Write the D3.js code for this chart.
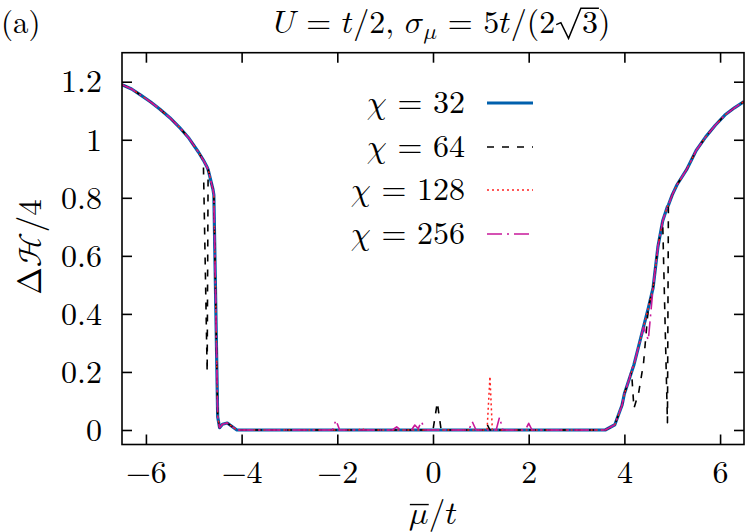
<!DOCTYPE html>
<html><head><meta charset="utf-8">
<script src="https://cdn.jsdelivr.net/npm/d3@7"></script>
<style>
body{margin:0;background:#fff;}
</style></head><body>
<svg id="chart" width="747" height="532"></svg>
<script>
// ---- data ----
const xValues = [
 -6.5,-6.3,-6.1,-5.9,-5.7,-5.5,-5.3,-5.1,-4.9,-4.8,-4.72,-4.7,-4.6,-4.58,-4.5,-4.46,-4.4,-4.3,-4.2,-4.1,-4.0,
 -3.0,-2.1,-2.03,-1.95,-1.55,-1.49,-1.43,-0.85,-0.76,-0.68,-0.45,-0.38,-0.31,-0.24,-0.17,0.0,0.09,0.17,0.3,
 0.75,0.82,0.9,1.1,1.13,1.19,1.24,1.32,1.39,1.46,1.93,2.0,2.07,3.0,3.6,
 3.8,3.95,4.0,4.1,4.15,4.2,4.3,4.4,4.5,4.6,4.7,4.8,4.9,4.92,5.0,5.1,5.3,5.5,5.7,5.9,6.1,6.3,6.5
];
const chi32 = [
 1.19,1.175,1.153,1.13,1.104,1.076,1.043,1.005,0.957,0.93,0.905,0.897,0.83,0.81,0.045,0.008,0.02,0.024,0.012,0,0,
 0,0,0,0,0,0,0,0,0,0,0,0,0,0,0,0,0,0,0,
 0,0,0,0,0,0,0,0,0,0,0,0,0,0,0,
 0.018,0.085,0.125,0.175,0.2,0.225,0.29,0.355,0.42,0.49,0.63,0.72,0.77,0.775,0.81,0.845,0.897,0.963,1.01,1.05,1.085,1.11,1.132
];
const chi64 = [
 1.19,1.175,1.153,1.13,1.104,1.076,1.043,1.005,0.957,0.93,0.2,0.897,0.83,0.81,0.045,0.008,0.02,0.024,0.012,0,0,
 0,0,0,0,0,0,0,0,0,0,0,0,0,0,0,0,0.095,0,0,
 0,0,0,0,0.02,0,0,0,0,0,0,0,0,0,0,
 0.018,0.085,0.125,0.175,0.2,0.075,0.13,0.23,0.42,0.49,0.63,0.72,0.025,0.775,0.81,0.845,0.897,0.963,1.01,1.05,1.085,1.11,1.132
];
const chi128 = [
 1.19,1.175,1.153,1.13,1.104,1.076,1.043,1.005,0.957,0.93,0.905,0.897,0.83,0.81,0.045,0.008,0.02,0.024,0.012,0,0,
 0,0,0,0,0,0.006,0,0,0,0,0,0,0,0,0,0,0,0,0,
 0,0,0,0,0,0.184,0,0,0,0,0,0,0,0,0,
 0.018,0.085,0.125,0.175,0.2,0.225,0.29,0.355,0.42,0.49,0.63,0.72,0.77,0.775,0.81,0.845,0.897,0.963,1.01,1.05,1.085,1.11,1.132
];
const chi256 = [
 1.19,1.175,1.153,1.13,1.104,1.076,1.043,1.005,0.957,0.93,0.905,0.897,0.83,0.81,0.045,0.008,0.02,0.024,0.012,0,0,
 0,0,0.034,0,0,0,0,0,0.011,0,0,0.017,0.005,0.029,0,0,0,0,0,
 0,0.029,0,0,0,0,0,0,0.044,0,0,0.023,0,0,0,
 0.018,0.085,0.125,0.175,0.21,0.225,0.29,0.355,0.31,0.49,0.63,0.72,0.77,0.775,0.81,0.845,0.897,0.963,1.01,1.05,1.085,1.11,1.132
];
const seriesLabels = ["32","64","128","256"];
const xTicks = [-6,-4,-2,0,2,4,6];
const yTicks = [0,0.2,0.4,0.6,0.8,1,1.2];

// ---- styles ----
const FONT = "'Latin Modern Roman', 'Latin Modern Math', 'FreeSerif', serif";
const MATH = "'Latin Modern Math', 'Latin Modern Roman', 'STIX Two Math', 'FreeSerif', serif";
const styles = [
  {color:"#0060ad", width:3.2, dash:null},
  {color:"#000000", width:1.6, dash:"7,8"},
  {color:"#ff2020", width:1.5, dash:"2,3"},
  {color:"#c8189a", width:1.6, dash:"15,5,2,5"}
];
const seriesData = [chi32, chi64, chi128, chi256];

const svg = d3.select("#chart");
const x = d3.scaleLinear().domain([-6.5,6.5]).range([122,744]);
const y = d3.scaleLinear().domain([-0.05,1.3]).range([444.5,52.7]);

svg.append("defs").append("clipPath").attr("id","clip")
  .append("rect").attr("x",122).attr("y",52.7).attr("width",622).attr("height",391.8);

// axes with inward ticks
const fs = 32;
const gB = svg.append("g").attr("transform",`translate(0,${y.range()[0]})`)
  .call(d3.axisBottom(x).tickValues(xTicks).tickSize(-10).tickPadding(0));
gB.selectAll("text").attr("y",27).attr("dy","0.35em").style("font-size",fs+"px");
const gT = svg.append("g").attr("transform",`translate(0,${y.range()[1]})`)
  .call(d3.axisTop(x).tickValues(xTicks).tickSize(-10).tickFormat(""));
const gL = svg.append("g").attr("transform",`translate(${x.range()[0]},0)`)
  .call(d3.axisLeft(y).tickValues(yTicks).tickSize(-10).tickPadding(20).tickFormat(d=>String(d)));
gL.selectAll("text").attr("dy","0.32em").style("font-size",fs+"px");
const gR = svg.append("g").attr("transform",`translate(${x.range()[1]},0)`)
  .call(d3.axisRight(y).tickValues(yTicks).tickSize(-10).tickFormat(""));
[gB,gT,gL,gR].forEach(g=>{
  g.attr("font-family",null);
  g.select(".domain").remove();
  g.selectAll("line").attr("stroke","#000").attr("stroke-width",1.6);
  g.selectAll("text").attr("fill","#000");
});

// lines
const line = d3.line().x((d,i)=>x(xValues[i])).y(d=>y(d));
const plot = svg.append("g").attr("clip-path","url(#clip)");
seriesData.forEach((vals,k)=>{
  const s = styles[k];
  plot.append("path").datum(vals).attr("d",line)
    .attr("fill","none").attr("stroke",s.color).attr("stroke-width",s.width)
    .attr("stroke-dasharray",s.dash).attr("stroke-linejoin","round");
});

// frame
svg.append("rect").attr("x",122).attr("y",52.7).attr("width",622).attr("height",391.8)
  .attr("fill","none").attr("stroke","#000").attr("stroke-width",1.6);

svg.selectAll("text").style("font-family",FONT);

// helpers
function mathTspan(t, s){ return t.append("tspan").style("font-family",MATH).text(s); }
function romTspan(t, s){ return t.append("tspan").style("font-family",FONT).text(s); }

// legend
const legY = [103,147,190,234];
seriesLabels.forEach((lab,k)=>{
  const t = svg.append("text").attr("x",465).attr("y",legY[k]).attr("dy","0.32em")
    .attr("text-anchor","end").style("font-size","32px");
  mathTspan(t,"𝜒");
  romTspan(t," = " + lab);
  const s = styles[k];
  svg.append("line").attr("x1",487).attr("x2",533).attr("y1",legY[k]).attr("y2",legY[k])
    .attr("stroke",s.color).attr("stroke-width",s.width).attr("stroke-dasharray",s.dash);
});

// panel label and title
svg.append("text").attr("x",1).attr("y",23).attr("dy","0.32em").style("font-size","31px")
  .style("font-family",FONT).text("(a)");
const titleSize = 32, titleY = 23;
const title = svg.append("text").attr("x",442).attr("y",titleY).attr("dy","0.32em")
  .attr("text-anchor","middle").style("font-size",titleSize+"px");
mathTspan(title,"𝑈");
romTspan(title," = ");
mathTspan(title,"𝑡");
romTspan(title,"/2, ");
mathTspan(title,"𝜎");
mathTspan(title,"𝜇").attr("dy",6).style("font-size","23px");
romTspan(title," = 5").attr("dy",-6);
mathTspan(title,"𝑡");
romTspan(title,"/(2");
romTspan(title,"\u2002 ");   // room for the radical sign
romTspan(title,"3");
romTspan(title,")");

// y label
const yl = svg.append("text").attr("transform","translate(30,247) rotate(-90)")
  .attr("text-anchor","middle").attr("dy","0.32em").style("font-size","33px");
romTspan(yl,"Δ");
mathTspan(yl,"ℋ");
romTspan(yl,"/4");

// x label
const xl = svg.append("text").attr("x",433).attr("y",513).attr("dy","0.32em")
  .attr("text-anchor","middle").style("font-size","33px");
mathTspan(xl,"𝜇");
romTspan(xl,"/");
mathTspan(xl,"𝑡");

// radical sign + overline (measured after fonts applied)
{
  const node = title.node();
  const txt = node.textContent;
  const iS = txt.indexOf("\u2002");
  const i3 = txt.lastIndexOf("3");
  const eS = node.getExtentOfChar(iS), e3 = node.getExtentOfChar(i3);
  const base = titleY + 0.32*titleSize;
  const ruleY = base - 0.78*titleSize;
  const x0 = eS.x + 1, xr = e3.x + e3.width + 1;
  const w = e3.x - x0;
  const p = d3.path();
  p.moveTo(x0, base - 0.27*titleSize);
  p.lineTo(x0 + 0.18*w, base - 0.33*titleSize);
  p.lineTo(x0 + 0.48*w, base + 0.16*titleSize);
  p.lineTo(e3.x - 1, ruleY);
  p.lineTo(xr, ruleY);
  svg.append("path").attr("d",p.toString()).attr("fill","none").attr("stroke","#000")
    .attr("stroke-width",1.5).attr("stroke-linejoin","miter");
}
{
  const node = xl.node();
  const e = node.getExtentOfChar(0);
  svg.append("line").attr("x1",e.x+1).attr("x2",e.x+e.width).attr("y1",e.y+8).attr("y2",e.y+8)
    .attr("stroke","#000").attr("stroke-width",1.4);
}
</script>
</body></html>
